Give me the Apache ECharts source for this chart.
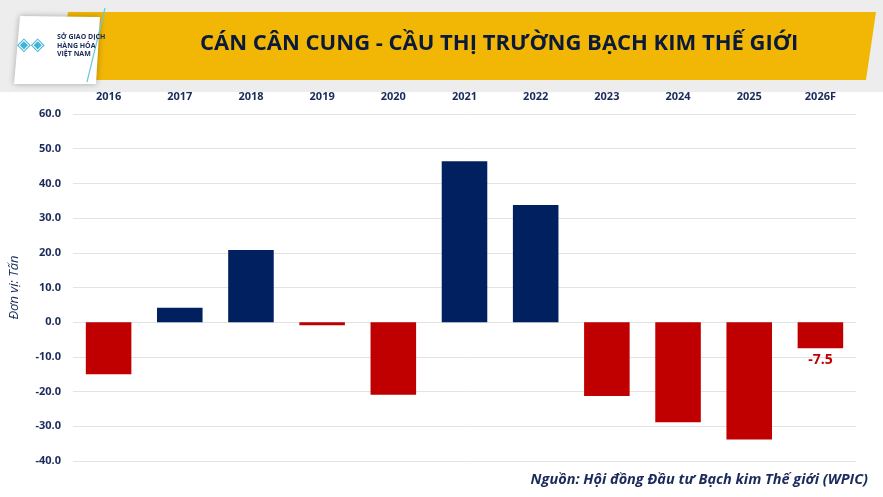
<!DOCTYPE html>
<html><head><meta charset="utf-8">
<script src="https://cdn.jsdelivr.net/npm/echarts@6/dist/echarts.min.js"></script>
<style>html,body{margin:0;padding:0;background:#fff}#c{width:883px;height:497px}</style>
</head><body><div id="c"></div>
<script>
const categories = ['2016','2017','2018','2019','2020','2021','2022','2023','2024','2025','2026F'];
const values = [-15.0, 4.2, 20.8, -0.9, -20.9, 46.4, 33.8, -21.3, -28.8, -33.8, -7.5];
const yTicks = {min:-40, max:60, interval:10};
const navy = '#002060', red = '#C00000';
const chart = echarts.init(document.getElementById('c'));
chart.setOption({
  animation:false,
  backgroundColor:'#fff',
  graphic:[
    {type:'rect', shape:{x:0,y:0,width:883,height:92}, style:{fill:'#ededed'}, z:-1},
    {type:'polygon', shape:{points:[[68,12],[876,12],[866,80],[58,80]]}, style:{fill:'#F2B705'}},
    {type:'polygon', shape:{points:[[20,16],[100,17],[96,84],[14,84]]}, style:{fill:'#fff', shadowBlur:6, shadowColor:'rgba(0,0,0,0.3)'}},
    {type:'line', shape:{x1:87,y1:82,x2:105,y2:8}, style:{stroke:'#6cc6e0',lineWidth:1.2}},
    {type:'text', left:17, top:36, style:{text:'◈◈', fill:'#3fb3d9', font:'bold 18px DejaVu Sans'}},
    {type:'text', left:57, top:33, style:{text:'SỞ GIAO DỊCH\nHÀNG HÓA\nVIỆT NAM', fill:'#1a2a5a', font:'bold 7px "Open Sans"', lineHeight:8.5}},
    {type:'text', left:200, top:33, style:{text:'CÁN CÂN CUNG - CẦU THỊ TRƯỜNG BẠCH KIM THẾ GIỚI', fill:'#0b1a3a', font:'bold 22px "Open Sans"'}},
    {type:'text', right:15, top:472, style:{text:'Nguồn: Hội đồng Đầu tư Bạch kim Thế giới (WPIC)', fill:'#1a2a5a', font:'italic bold 14.5px "Open Sans"'}}
  ],
  grid:{left:72, right:27, top:114, bottom:36},
  xAxis:{type:'category', data:categories, position:'top',
    axisLine:{show:false}, axisTick:{show:false},
    axisLabel:{color:'#1a2a5a', fontWeight:'bold', fontSize:11, fontFamily:'Open Sans', margin:12}},
  yAxis:{type:'value', min:yTicks.min, max:yTicks.max, interval:yTicks.interval,
    name:'Đơn vị: Tấn', nameLocation:'middle', nameGap:52,
    nameTextStyle:{color:'#1a2a5a', fontStyle:'italic', fontSize:13, fontFamily:'Open Sans'},
    axisLabel:{color:'#1a2a5a', fontWeight:'bold', fontSize:11, fontFamily:'Open Sans', formatter:v=>v.toFixed(1), margin:12},
    splitLine:{lineStyle:{color:'#e3e3e3'}}, axisLine:{show:false}, axisTick:{show:false}},
  series:[{type:'bar', barWidth:'64%',
    data:values.map((v,i)=>({value:v, itemStyle:{color:v<0?red:navy},
      label: i===values.length-1 ? {show:true, position:'bottom', formatter:'{c}', color:red, fontWeight:'bold', fontSize:14, fontFamily:'Open Sans'} : {show:false}}))}]
});
</script></body></html>
